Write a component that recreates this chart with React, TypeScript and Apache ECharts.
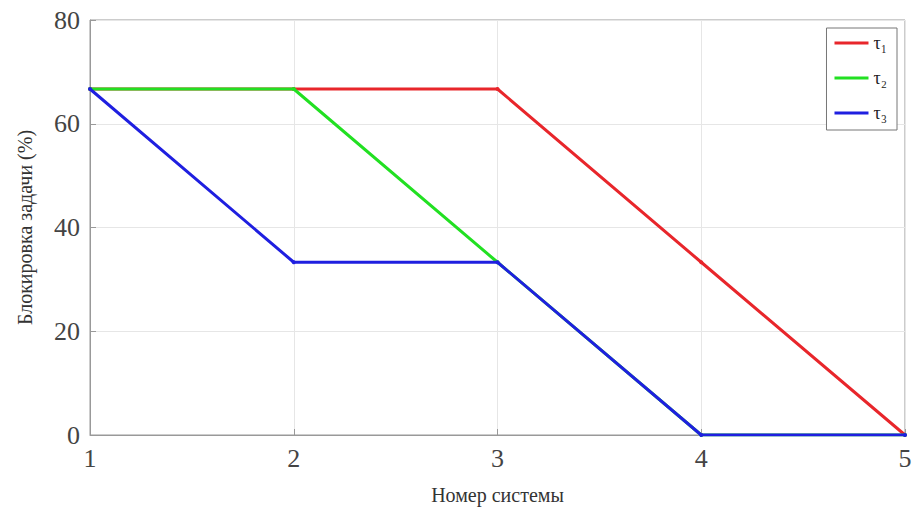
import React, { useEffect, useRef } from "react";
import * as echarts from "echarts";

const xCategories = [1, 2, 3, 4, 5];
const tau1 = [66.7, 66.7, 66.7, 33.3, 0];
const tau2 = [66.7, 66.7, 33.3, 0, 0];
const tau3 = [66.7, 33.3, 33.3, 0, 0];
const seriesNames = ["τ₁", "τ₂", "τ₃"];
const seriesColors = ["#e8262b", "#22e022", "#1f1fe0"];

export default function App() {
  const ref = useRef<HTMLDivElement>(null);
  useEffect(() => {
    if (!ref.current) return;
    const chart = echarts.init(ref.current, null, { renderer: "svg" });
    const font = "'Liberation Serif', 'Times New Roman', serif";
    const datasets = [tau1, tau2, tau3];
    chart.setOption({
      animation: false,
      backgroundColor: "#ffffff",
      grid: { left: 90, right: 12, top: 20, bottom: 75, containLabel: false },
      legend: {
        right: 20,
        top: 28,
        orient: "vertical",
        data: seriesNames.map((n) => ({ name: n, icon: "rect" })),
        itemWidth: 34,
        itemHeight: 3,
        itemGap: 17,
        padding: [6, 10, 8, 8],
        borderColor: "#777",
        borderWidth: 1,
        backgroundColor: "#fff",
        textStyle: { fontFamily: font, fontSize: 18, color: "#222" },
      },
      xAxis: {
        type: "value",
        min: 1,
        max: 5,
        interval: 1,
        name: "Номер системы",
        nameLocation: "middle",
        nameGap: 50,
        nameTextStyle: { fontFamily: font, fontSize: 20, color: "#333" },
        axisLine: { show: true, lineStyle: { color: "#999", width: 1 } },
        axisTick: { show: true, inside: true, length: 6, lineStyle: { color: "#999" } },
        axisLabel: { fontFamily: font, fontSize: 26, color: "#444", margin: 10 },
        splitLine: { show: true, lineStyle: { color: "#e6e6e6", width: 1 } },
      },
      yAxis: {
        type: "value",
        min: 0,
        max: 80,
        interval: 20,
        name: "Блокировка задачи (%)",
        nameLocation: "middle",
        nameGap: 55,
        nameTextStyle: { fontFamily: font, fontSize: 20, color: "#333" },
        axisLine: { show: true, lineStyle: { color: "#999", width: 1 } },
        axisTick: { show: true, inside: true, length: 6, lineStyle: { color: "#999" } },
        axisLabel: { fontFamily: font, fontSize: 26, color: "#444", margin: 10 },
        splitLine: { show: true, lineStyle: { color: "#e6e6e6", width: 1 } },
      },
      series: seriesNames.map((name, i) => ({
        name,
        type: "line",
        data: xCategories.map((x, j) => [x, datasets[i][j]]),
        symbol: "circle",
        symbolSize: 4,
        lineStyle: { width: 3, color: seriesColors[i] },
        itemStyle: { color: seriesColors[i] },
        z: 2 + i,
      })),
      graphic: [
        {
          type: "rect",
          shape: { x: 90, y: 20, width: 815, height: 415 },
          style: { fill: "none", stroke: "#999", lineWidth: 1 },
          silent: true,
          z: -1,
        },
      ],
    });
    return () => chart.dispose();
  }, []);
  return (
    <div
      ref={ref}
      style={{ position: "fixed", left: 0, top: 0, width: 917, height: 510 }}
    />
  );
}
